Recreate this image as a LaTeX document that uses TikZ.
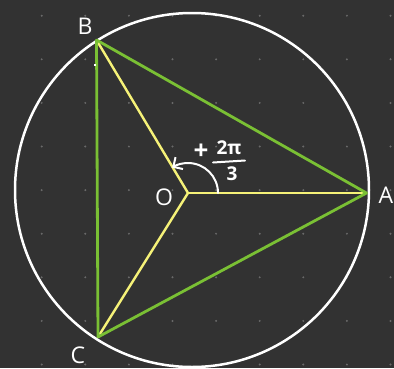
\documentclass[tikz,border=0pt]{standalone}
\usepackage{fontspec}
\setmainfont{Open Sans}
\usetikzlibrary{arrows.meta}
\definecolor{bg}{RGB}{50,50,50}
\definecolor{dotc}{RGB}{105,105,105}
\definecolor{grn}{RGB}{122,192,52}
\definecolor{yel}{RGB}{246,242,120}
\begin{document}
\begin{tikzpicture}[x=1pt,y=-1pt,
  lbl/.style={text=white,font=\fontsize{23}{23}\selectfont},
  frac/.style={text=white,font=\fontsize{19}{19}\selectfont\bfseries,inner sep=0pt},
  spoke/.style={yel,line width=2.4pt},
  side/.style={grn,line width=2.8pt,line join=round,line cap=round}]
\fill[bg] (0,0) rectangle (394,368);
\useasboundingbox (0,0) rectangle (394,368);
\foreach \i in {0,...,8} \foreach \j in {0,...,8}
  \fill[dotc] (41.7+43.6*\i, 15.7+43.6*\j) circle[radius=1.1pt];
\coordinate (O) at (188,193);
\coordinate (A) at (366.5,193);
\coordinate (B) at (96.5,40);
\coordinate (C) at (98,337);
\coordinate (Z) at (192,190);
\draw[white,line width=2.5pt] (Z) circle[radius=177pt];
\draw[spoke] (O) -- (A);
\draw[spoke] (O) -- (B);
\draw[spoke] (O) -- (C);
\draw[side] (A) -- (B) -- (C) -- cycle;
\draw[white,line width=2pt,line cap=round,-{Straight Barb[length=7pt,width=14pt,line width=2pt]}]
  ([shift={(30pt,0pt)}]O) arc[start angle=0,end angle=122,radius=30pt];
\fill[white] (94,64) rectangle (96,66);
\node[lbl] (lB) at (85,26) {B};
\node[lbl] (lA) at (386,195) {A};
\node[lbl] (lC) at (78,355) {C};
\node[lbl] (lO) at (164,197) {O};
\node[text=white,font=\fontsize{26}{26}\selectfont\bfseries,inner sep=0pt] (plus) at (201,152) {+};
\node[frac] (num) at (229,148) {2π};
\node[frac] (den) at (232,174) {3};
\coordinate (bl) at (213,162.5);
\coordinate (br) at (245,160.5);
\draw[white,line width=2pt,line cap=round] (bl) -- (br);
\end{tikzpicture}
\end{document}
